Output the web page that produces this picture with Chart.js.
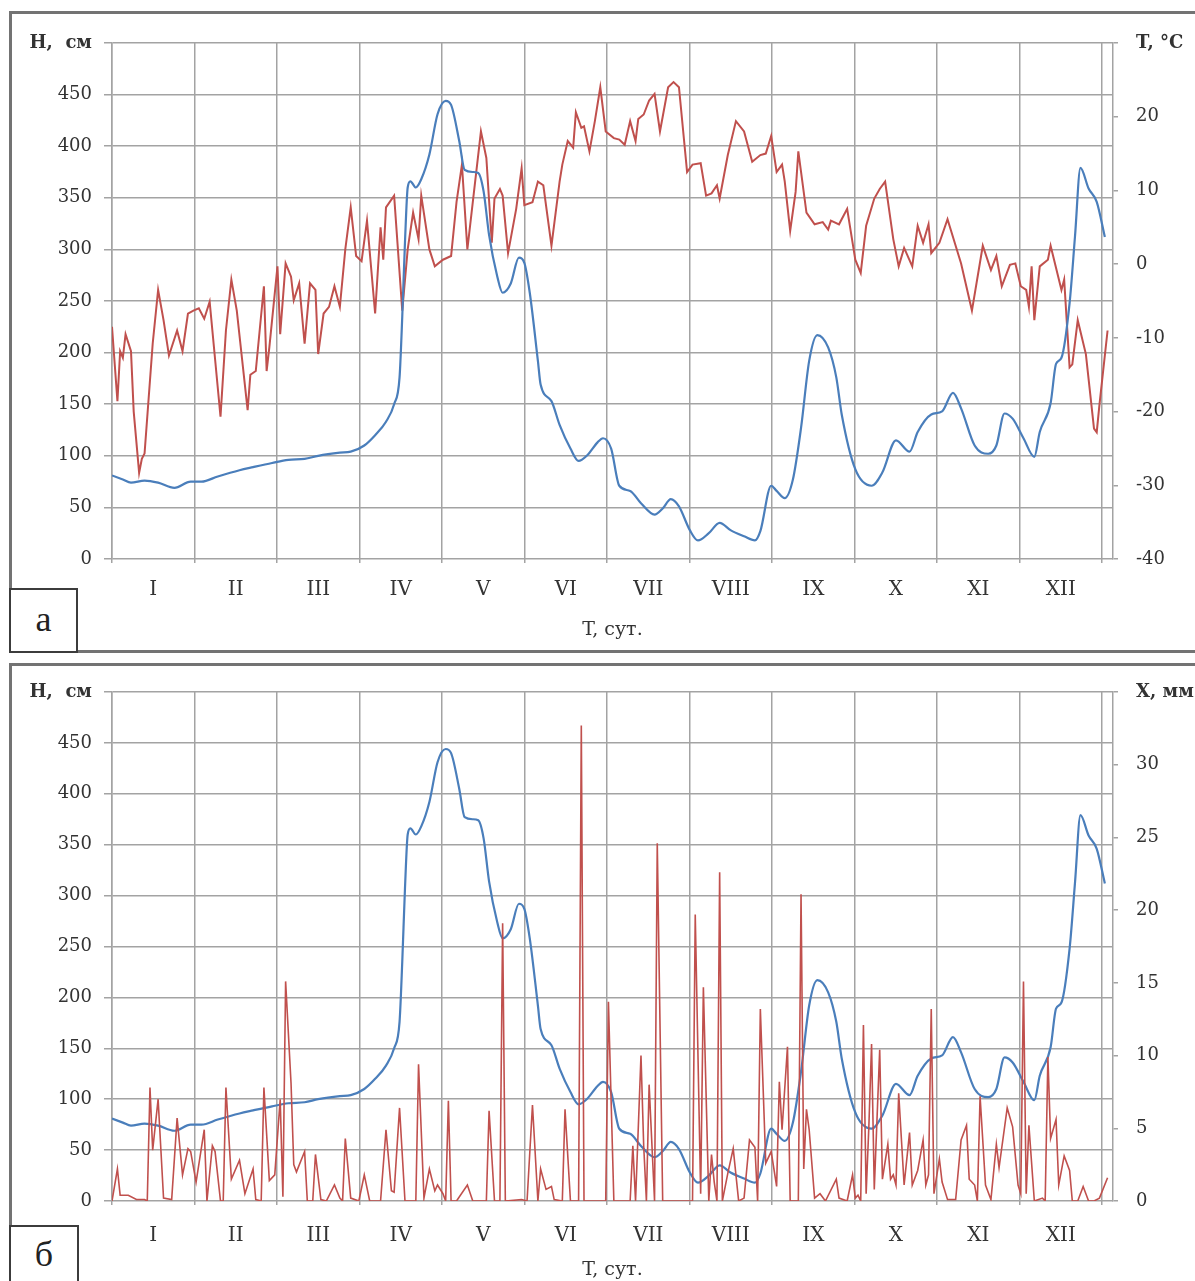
<!DOCTYPE html>
<html>
<head>
<meta charset="utf-8">
<script src="https://cdn.jsdelivr.net/npm/chart.js@4.4.1/dist/chart.umd.min.js"></script>
<style>
  html, body { margin:0; padding:0; background:#fff; width:1195px; height:1281px; overflow:hidden; }
  .panel { position:absolute; border:3px solid #737373; border-right:none; box-sizing:border-box; }
  #pa { left:9px; top:11px; width:1200px; height:642px; }
  #pb { left:9px; top:663px; width:1200px; height:640px; }
  .cv { position:absolute; left:0; }
  #wa { top:0; width:1195px; height:650px; }
  #wb { top:660px; width:1195px; height:621px; }
  .tag { position:absolute; background:#fff; border:2px solid #3c3c3c; box-sizing:border-box;
         font-family:"Liberation Serif", serif; font-size:36px; color:#222; text-align:center; z-index:5; }
  #ta { left:9px; top:588px; width:69px; height:65px; line-height:58px; }
  #tb { left:9px; top:1225px; width:70px; height:70px; line-height:54px; }
</style>
</head>
<body>
<div class="panel" id="pa"></div>
<div class="panel" id="pb"></div>
<div class="cv" id="wa"><canvas id="ca" width="1195" height="650"></canvas></div>
<div class="cv" id="wb"><canvas id="cb" width="1195" height="621"></canvas></div>
<div class="tag" id="ta">а</div>
<div class="tag" id="tb">б</div>
<script>
// ---------- data (day of year, value) ----------
const monthLabels = ['I','II','III','IV','V','VI','VII','VIII','IX','X','XI','XII'];
const titleH = 'Н,  см';
const titleT = 'T, °C';
const titleX = 'X, мм';
const titleTime = 'T, сут.';

// water level H, cm
const levelH = [
 [0,81],[4,77],[7,74],[12,76],[17,74],[23,69],[29,75],[33,75],[39,80],[47,86],[52,89],[59,93],[65,96],[71,97],[76,100],
 [84,103],[88,104],[93,110],[97,120],[101,133],[104,150],[106,176],[107,235],[108,307],[109,360],[110,366],[112,360],
 [114,368],[117,392],[120,431],[123,444],[125,440],[128,405],[130,377],[133,375],[135,374],[137,356],[139,314],[142,274],
 [144,258],[147,267],[150,292],[152,287],[154,258],[157,192],[158,169],[162,153],[165,130],[169,107],[172,95],[175,100],
 [179,113],[181,117],[184,107],[187,71],[191,66],[195,54],[200,43],[203,49],[206,58],[209,51],[213,28],[216,18],[220,25],
 [224,35],[228,28],[233,22],[237,18],[239,27],[243,71],[245,66],[248,59],[251,77],[254,127],[257,192],[260,217],[264,205],
 [267,176],[269,140],[274,87],[280,71],[284,84],[289,115],[294,104],[297,123],[302,140],[306,143],[310,161],[313,146],
 [318,110],[323,102],[326,110],[329,141],[332,136],[336,117],[340,99],[342,123],[346,151],[348,189],[350,195],[353,248],
 [355,313],[357,379],[360,359],[363,346],[366,312]
];

// air temperature T, °C
const airT = [
 [0,-8.5],[2,-18.6],[3,-11.8],[4,-12.7],[5,-9.5],[7,-11.8],[8,-20],[10,-28.3],[11,-26.4],[12,-25.7],[15,-10.8],[17,-3.5],
 [19,-7.6],[21,-12.4],[24,-9],[26,-11.8],[28,-6.7],[30,-6.3],[32,-6],[34,-7.4],[36,-5.1],[40,-20.7],[42,-9],[44,-2.1],
 [46,-6.3],[50,-19.8],[51,-15],[53,-14.5],[56,-3],[57,-14.5],[58,-11.3],[61,-0.3],[62,-9.5],[64,0.1],[66,-1.7],[67,-4.9],
 [69,-2.6],[71,-10.8],[73,-2.6],[75,-3.5],[76,-12.2],[78,-6.7],[80,-5.8],[82,-3],[84,-5.8],[86,2],[88,7.7],[90,1.1],
 [92,0.4],[94,5.9],[97,-6.7],[99,5],[100,0.6],[101,7.7],[104,9.3],[107,-6.3],[109,2],[111,7],[113,3.4],[114,9.3],[117,2],
 [119,-0.3],[122,0.6],[125,1.1],[127,8.4],[129,13.5],[131,2],[133,8.4],[136,18],[138,14.4],[140,2.9],[141,8.9],[143,10.2],
 [144,9.3],[146,1.5],[149,7.5],[151,13],[152,8],[155,8.4],[157,11.2],[159,10.7],[162,2.5],[165,11.2],[166,13.5],[168,16.7],
 [170,15.8],[171,20.6],[173,18.5],[174,18.7],[176,15.3],[178,19.4],[180,24],[182,18],[185,17.1],[187,16.9],[189,16.2],
 [191,19.4],[193,16.7],[194,19.7],[196,20.3],[198,22.2],[200,23.1],[202,18],[205,24],[207,24.7],[209,24],[212,12.5],
 [214,13.5],[217,13.7],[219,9.3],[221,9.6],[223,10.7],[224,8.9],[227,14.8],[230,19.4],[233,18],[236,13.9],[239,14.8],
 [241,15],[243,17.4],[245,12.5],[247,13.5],[248,11.2],[250,4.5],[252,9.8],[253,15.3],[256,7],[259,5.4],[262,5.7],
 [264,4.7],[265,5.9],[268,5.4],[271,7.5],[274,0.6],[276,-1.2],[278,5.2],[281,8.9],[283,10.2],[285,11.2],[288,3.4],
 [290,-0.3],[292,2.2],[295,-0.3],[297,5.2],[299,2.9],[301,5.4],[302,1.5],[305,2.9],[308,6.1],[313,0.1],[317,-6.3],
 [321,2.5],[324,-0.8],[326,1.1],[328,-3],[331,-0.1],[333,0.1],[335,-3],[337,-3.5],[338,-5.8],[339,-0.3],[340,-7.6],
 [342,-0.3],[345,0.6],[346,2.5],[350,-3.5],[351,-2.1],[353,-14],[354,-13.6],[356,-7.6],[359,-12.2],[362,-22.3],
 [363,-22.8],[364,-19.1],[367,-9]
];

// precipitation X, mm
const precipX = [
 [0,0],[2,2.2],[3,0.4],[6,0.4],[9,0.1],[12,0.1],[13,0],[14,7.8],[15,3.5],[17,7.0],[19,0.2],[22,0.1],[24,5.7],[26,1.8],
 [28,3.6],[29,3.4],[31,1.3],[34,4.9],[35,0],[37,3.8],[38,3.4],[40,0],[41,0],[42,7.8],[44,1.5],[47,2.8],[49,0.5],[52,2.2],
 [53,0.1],[55,0],[56,7.8],[58,1.4],[60,1.8],[62,7.0],[63,0.3],[64,15.1],[66,8.1],[67,2.5],[68,2],[71,3.4],[72,0],[74,0],
 [75,3.2],[77,0.1],[79,0],[82,1.1],[84,0.2],[85,0],[86,4.3],[88,0.2],[91,0],[93,1.8],[95,0],[99,0],[101,4.9],[103,0.7],
 [104,0.6],[106,6.4],[108,0],[111,0],[112,0],[113,9.4],[115,0.2],[117,2.2],[119,0.7],[120,1.1],[122,0.5],[123,0],
 [124,6.9],[125,0],[127,0],[131,1.1],[133,0],[137,0],[138,0],[139,6.2],[141,0],[143,0],[144,19.1],[145,0],[151,0.1],
 [153,0],[155,6.6],[157,0],[158,2.2],[160,0.8],[162,1],[163,0.1],[166,0],[167,6.3],[169,0],[172,0],[173,32.7],[174,0],
 [182,0],[183,13.7],[185,0],[191,0],[192,3.8],[193,0],[195,10],[196,3.8],[197,0],[198,8.0],[200,0],[201,24.6],[203,0],
 [214,0],[215,19.7],[217,0.5],[218,14.7],[220,0],[221,3.2],[222,1.3],[223,0],[224,22.6],[225,0],[227,1.9],[229,3.6],
 [231,0],[233,0.2],[235,4.2],[237,3.7],[238,0],[239,13.2],[241,2.6],[243,3.4],[245,1],[246,8.2],[247,4.9],[249,10.6],
 [250,0],[253,0],[254,21.1],[255,2.2],[256,6.3],[257,4.9],[259,0.2],[261,0.5],[263,0],[267,1.5],[268,0.2],[271,0],
 [273,1.8],[274,0.2],[275,0.4],[276,0],[277,12.1],[278,0.5],[279,5.1],[280,10.8],[281,0.8],[283,10.4],[284,1.5],
 [286,3.9],[287,1.5],[288,1.8],[289,1.1],[290,7.4],[292,1.1],[294,4.7],[295,1.1],[297,2.1],[299,4.2],[300,1.1],
 [301,1.8],[302,13.2],[303,0.5],[305,2.9],[306,1.3],[308,0.1],[311,0.1],[313,4.2],[315,5.2],[316,1.5],[318,1.1],
 [319,0],[320,7.2],[322,1.1],[324,0.1],[326,3.9],[327,2.3],[330,6.4],[332,5.1],[334,1.1],[335,0.5],[336,15.1],
 [337,0.5],[338,5.2],[340,0],[343,0.2],[344,0],[345,9.9],[346,4.3],[348,5.6],[349,1.1],[351,3.1],[353,2.1],[354,0],
 [356,0],[358,1],[360,0],[362,0],[364,0.2],[367,1.6]
];

// ---------- chart helpers ----------
const DAYS_MONTH = 365 / 12;
const X_MAX = 369;
const GRID = '#a3a3a3';
const TXT = '#333333';
const FONT = '"DejaVu Serif", "Liberation Serif", serif';
const BLUE = '#4a7ebb';
const RED = '#c0504d';
const pts = arr => arr.map(p => ({x: p[0], y: p[1]}));

function xScale(tickPad, titlePadBottom, axisHeight) {
  return {
    type: 'linear', min: 0, max: X_MAX, position: 'bottom',
    afterBuildTicks: s => {
      const t = [];
      for (let k = 0; k <= 12; k++) {
        t.push({value: k * DAYS_MONTH});
        if (k < 12) t.push({value: (k + 0.5) * DAYS_MONTH});
      }
      s.ticks = t;
    },
    afterFit: s => { s.height = axisHeight; },
    grid: {
      color: c => (c.index % 2 === 0 ? GRID : 'rgba(0,0,0,0)'),
      tickColor: c => (c.index % 2 === 0 ? GRID : 'rgba(0,0,0,0)'),
      lineWidth: 1.5, drawTicks: true, tickLength: 4
    },
    border: {display: false},
    ticks: {
      autoSkip: false, maxRotation: 0, minRotation: 0, padding: tickPad, color: TXT,
      font: {family: FONT, size: 20},
      callback: (v, i) => (i % 2 === 1 ? monthLabels[(i - 1) / 2] : '')
    },
    title: {display: true, text: titleTime, color: TXT, font: {family: FONT, size: 19},
            padding: {top: 0, bottom: titlePadBottom}}
  };
}

function leftScale() {
  return {
    position: 'left', min: 0, max: 500,
    afterFit: s => { s.width = 112; },
    grid: {color: GRID, lineWidth: 1.5, tickLength: 8},
    border: {color: GRID, width: 1.5},
    ticks: {
      stepSize: 50, padding: 12, color: TXT,
      font: c => (c.tick && c.tick.value === 500 ? {family: FONT, size: 18, weight: 'bold'} : {family: FONT, size: 18}),
      callback: v => (v === 500 ? titleH : v)
    }
  };
}

function rightScale(min, max, step, title) {
  return {
    position: 'right', min: min, max: max,
    afterFit: s => { s.width = 82; },
    grid: {drawOnChartArea: false, color: GRID, tickColor: GRID, lineWidth: 1.5, tickLength: 5},
    border: {color: GRID, width: 1.5},
    ticks: {
      stepSize: step, padding: 18, color: TXT,
      font: c => (c.tick && c.tick.value === max ? {family: FONT, size: 18, weight: 'bold'} : {family: FONT, size: 18}),
      callback: v => (v === max ? title : v)
    }
  };
}

const common = {
  responsive: false, animation: false, devicePixelRatio: 1,
  plugins: {legend: {display: false}, tooltip: {enabled: false}},
  elements: {point: {radius: 0}}
};

// ---------- panel a : H and T ----------
new Chart(document.getElementById('ca'), {
  type: 'line',
  data: {
    datasets: [
      {data: pts(levelH), yAxisID: 'y', borderColor: BLUE, borderWidth: 2.2,
       cubicInterpolationMode: 'monotone', tension: 0.4},
      {data: pts(airT), yAxisID: 'y1', borderColor: RED, borderWidth: 2, tension: 0}
    ]
  },
  options: Object.assign({}, common, {
    layout: {padding: {top: 43, left: 0, right: 0, bottom: 0}},
    scales: {
      x: xScale(15, 9, 91),
      y: leftScale(),
      y1: rightScale(-40, 30, 10, titleT)
    }
  })
});

// ---------- panel б : H and X ----------
new Chart(document.getElementById('cb'), {
  type: 'line',
  data: {
    datasets: [
      {data: pts(precipX), yAxisID: 'y1', borderColor: RED, borderWidth: 1.6, tension: 0},
      {data: pts(levelH), yAxisID: 'y', borderColor: BLUE, borderWidth: 2.2,
       cubicInterpolationMode: 'monotone', tension: 0.4}
    ]
  },
  options: Object.assign({}, common, {
    layout: {padding: {top: 32, left: 0, right: 0, bottom: 0}},
    scales: {
      x: xScale(19, 0, 80),
      y: leftScale(),
      y1: rightScale(0, 35, 5, titleX)
    }
  })
});
</script>
</body>
</html>
